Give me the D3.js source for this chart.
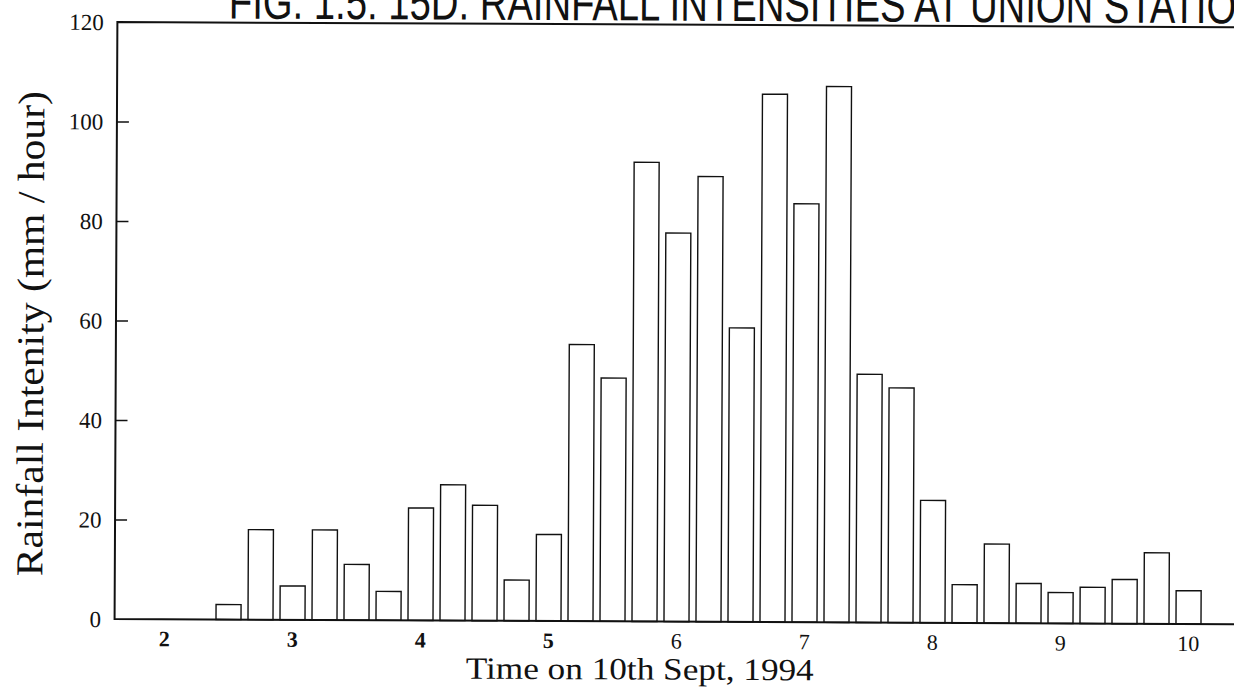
<!DOCTYPE html>
<html>
<head>
<meta charset="utf-8">
<script src="https://cdn.jsdelivr.net/npm/d3@7"></script>
<style>
  html, body { margin: 0; padding: 0; background: #fff; }
  svg { display: block; }
</style>
</head>
<body>
<div id="chart"></div>
<script>
// 15-minute rainfall intensities, 10th Sept 1994
const times = ["2:30","2:45","3:00","3:15","3:30","3:45","4:00","4:15","4:30","4:45",
               "5:00","5:15","5:30","5:45","6:00","6:15","6:30","6:45","7:00","7:15",
               "7:30","7:45","8:00","8:15","8:30","8:45","9:00","9:15","9:30","9:45","10:00"];
const intensity = [3.0,18.1,6.8,18.1,11.2,5.8,22.6,27.3,23.2,8.2,
                   17.4,55.6,48.9,92.3,78.1,89.5,59.1,106.1,84.1,107.7,
                   49.9,47.2,24.6,7.7,15.9,8.0,6.2,7.3,8.9,14.3,6.7];
const xTicks = [2,3,4,5,6,7,8,9,10];
const yTicks = [0,20,40,60,80,100,120];

const titleText = "FIG. 1.5: 15D. RAINFALL INTENSITIES AT UNION STATION";
const xTitle = "Time on 10th Sept, 1994";
const yTitle = "Rainfall Intenity (mm / hour)";

(function() {
  const W = 1234, H = 687;
  const toHours = s => { const [h,m] = s.split(":").map(Number); return h + m/60; };
  const data = times.map((t,i)=>({ t: toHours(t), v: intensity[i] }));

  const x = d3.scaleLinear().domain([2,10]).range([164.5,1188.5]);
  const y = d3.scaleLinear().domain([0,120]).range([619,22]);
  const xLo = 1.61, xHi = 10.6;
  const halfBar = 0.0977; // hours

  const svg = d3.select("#chart").append("svg")
    .attr("width",W).attr("height",H)
    .attr("font-family","'Liberation Serif','Times New Roman',serif");

  // the scanned page is a little tilted
  const g = svg.append("g").attr("transform","rotate(0.27,114,619)");

  //title (cut off at the top of the scan)
  g.append("text")
    .attr("x",226).attr("y",18)
    .attr("font-family","'Liberation Sans',Arial,sans-serif")
    .attr("font-size",50)
    .attr("textLength",1035).attr("lengthAdjust","spacingAndGlyphs")
    .attr("fill","#111")
    .text(titleText);

  //bars
  g.selectAll("rect.bar")
    .data(data)
    .enter()
    .append("rect")
    .attr("class","bar")
    .attr("x",d=>x(d.t-halfBar))
    .attr("width",d=>x(d.t+halfBar)-x(d.t-halfBar))
    .attr("y",d=>y(d.v))
    .attr("height",d=>y(0)-y(d.v))
    .attr("fill","#fff")
    .attr("stroke","#111")
    .attr("stroke-width",1.4);

  //frame
  g.append("path")
    .attr("d",`M${x(xHi)},${y(120)}H${x(xLo)}V${y(0)}H${x(xHi)}`)
    .attr("fill","none")
    .attr("stroke","#111")
    .attr("stroke-width",2);

  //y axis: inward ticks, labels on the left
  const yAxis = g.append("g")
    .attr("transform",`translate(${x(xLo)},0)`)
    .call(d3.axisRight(y).tickValues(yTicks).tickSize(12).tickFormat(""));
  yAxis.select(".domain").remove();
  yAxis.selectAll(".tick line")
    .attr("stroke","#111").attr("stroke-width",1.5)
    .filter(d=>d===0||d===120).remove();

  g.selectAll("text.ylab")
    .data(yTicks)
    .enter()
    .append("text")
    .attr("class","ylab")
    .attr("x",101)
    .attr("y",d=>y(d))
    .attr("dy","0.35em")
    .attr("text-anchor","end")
    .attr("font-size",23)
    .attr("fill","#111")
    .text(d=>d);

  //x labels
  g.selectAll("text.xlab")
    .data(xTicks)
    .enter()
    .append("text")
    .attr("class","xlab")
    .attr("x",d=>x(d))
    .attr("y",y(0)+27)
    .attr("text-anchor","middle")
    .attr("font-size",22)
    .attr("font-weight",d=>d<=5?"bold":"normal")
    .attr("fill","#111")
    .text(d=>d);

  //axis titles
  g.append("text")
    .attr("x",640).attr("y",677)
    .attr("text-anchor","middle")
    .attr("font-size",31)
    .attr("textLength",348).attr("lengthAdjust","spacingAndGlyphs")
    .attr("fill","#111")
    .text(xTitle);

  g.append("text")
    .attr("transform","translate(42,334) rotate(-90)")
    .attr("text-anchor","middle")
    .attr("font-size",38)
    .attr("textLength",485).attr("lengthAdjust","spacingAndGlyphs")
    .attr("fill","#111")
    .text(yTitle);
})();
</script>
</body>
</html>
